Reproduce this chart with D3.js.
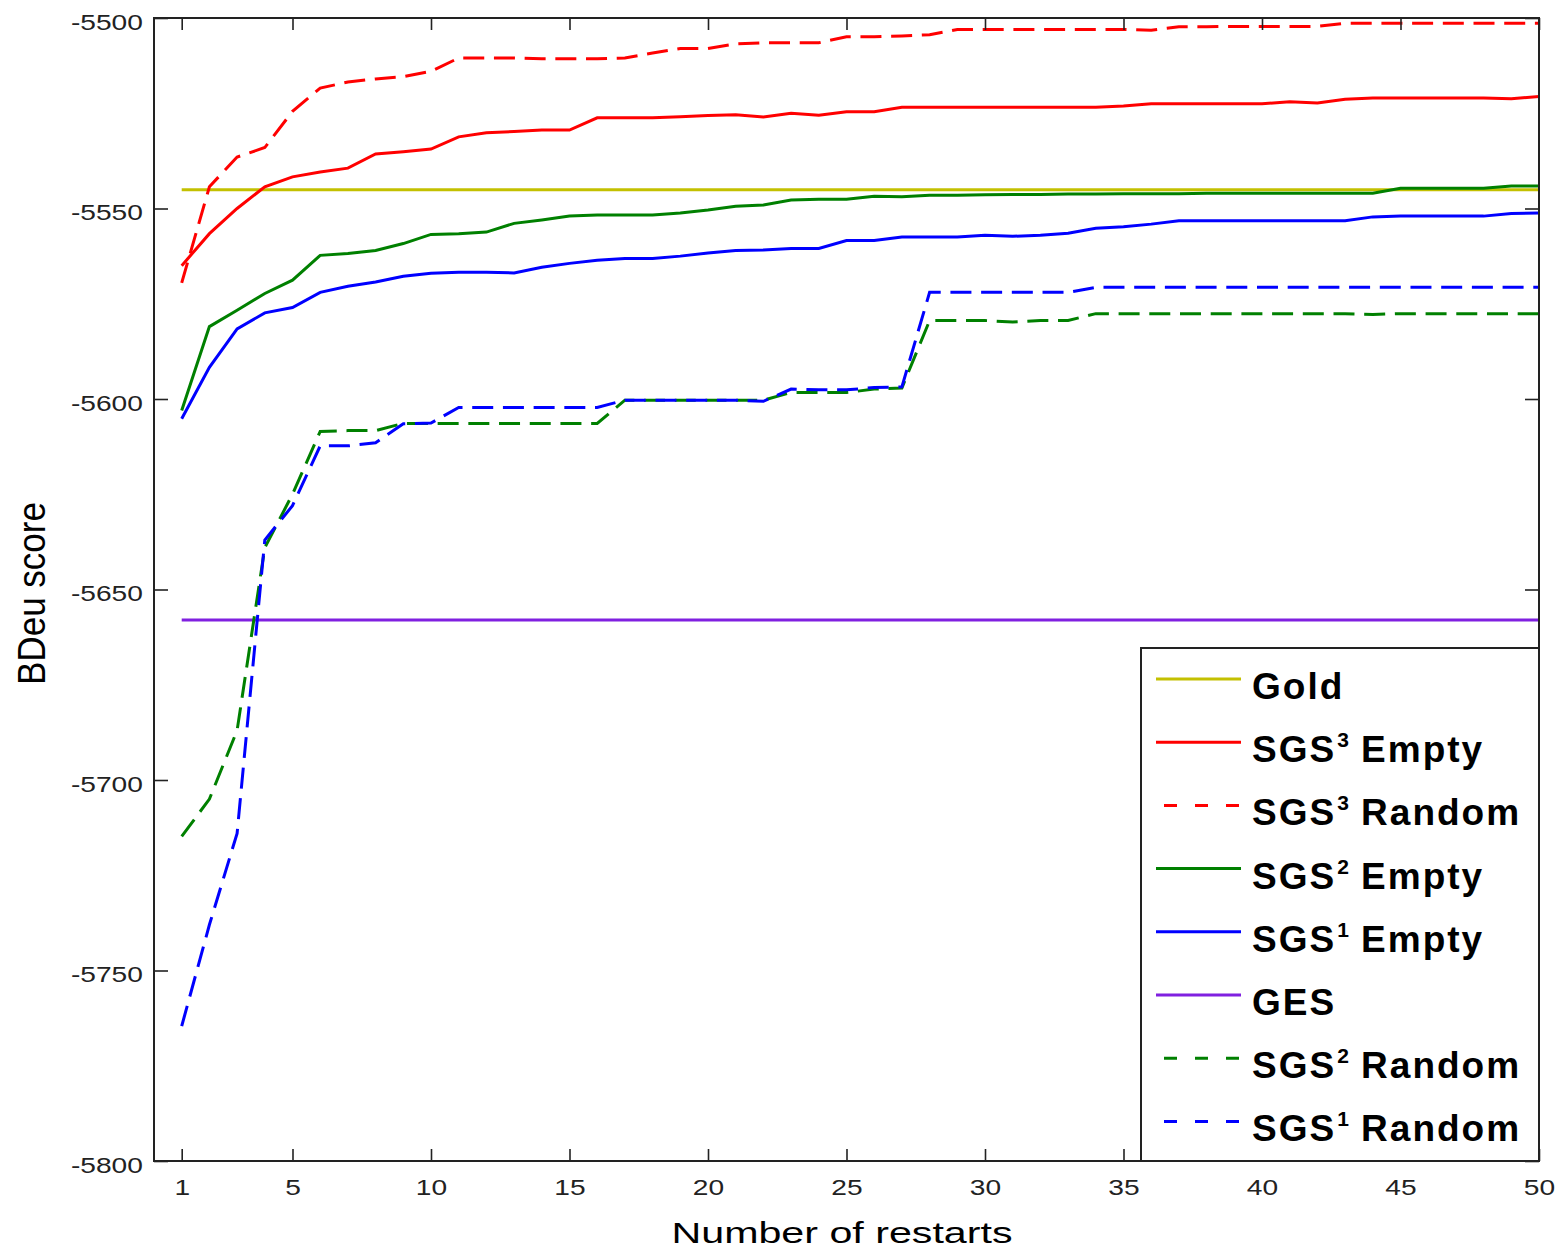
<!DOCTYPE html>
<html lang="en">
<head>
<meta charset="UTF-8">
<title>BDeu score vs number of restarts</title>
<script src="https://d3js.org/d3.v7.min.js"></script>
<style>
  body { margin: 0; background: #fff; }
  svg text { font-family: "Liberation Sans", Arial, sans-serif; }
</style>
</head>
<body>
<svg id="chart" width="1555" height="1251"></svg>
<script>
// ---- data ----
const restarts = d3.range(1, 51);

const sgs3Empty = [
  -5565, -5556.6, -5550, -5544.3, -5541.7, -5540.4, -5539.4, -5535.7, -5535.1, -5534.4,
  -5531.2, -5530.1, -5529.8, -5529.4, -5529.4, -5526.2, -5526.2, -5526.2, -5525.9, -5525.6,
  -5525.4, -5526.0, -5525.0, -5525.5, -5524.6, -5524.6, -5523.4, -5523.4, -5523.4, -5523.4,
  -5523.4, -5523.4, -5523.4, -5523.4, -5523.1, -5522.5, -5522.5, -5522.5, -5522.5, -5522.5,
  -5522.0, -5522.3, -5521.3, -5521.0, -5521.0, -5521.0, -5521.0, -5521.0, -5521.2, -5520.6
];
const sgs3Random = [
  -5569.5, -5544.3, -5536.5, -5534, -5524.5, -5518.4, -5516.8, -5516, -5515.4, -5514,
  -5510.5, -5510.5, -5510.5, -5510.7, -5510.7, -5510.7, -5510.5, -5509.2, -5508, -5508,
  -5506.8, -5506.5, -5506.5, -5506.5, -5504.9, -5504.9, -5504.7, -5504.4, -5503, -5503,
  -5503, -5503, -5503, -5503, -5503, -5503.2, -5502.3, -5502.3, -5502.2, -5502.2,
  -5502.2, -5502.2, -5501.4, -5501.4, -5501.4, -5501.4, -5501.4, -5501.4, -5501.4, -5501.4
];
const sgs2Empty = [
  -5603, -5581, -5576.7, -5572.3, -5568.8, -5562.3, -5561.8, -5561, -5559.2, -5556.8,
  -5556.6, -5556.2, -5553.9, -5553, -5552, -5551.7, -5551.7, -5551.7, -5551.2, -5550.4,
  -5549.4, -5549.1, -5547.8, -5547.6, -5547.6, -5546.8, -5546.9, -5546.5, -5546.5, -5546.4,
  -5546.3, -5546.3, -5546.2, -5546.2, -5546.1, -5546.1, -5546.1, -5546, -5546, -5546,
  -5546, -5546, -5546, -5546, -5544.7, -5544.7, -5544.7, -5544.7, -5544.1, -5544.1
];
const sgs1Empty = [
  -5605.2, -5591.7, -5581.6, -5577.4, -5576, -5572, -5570.4, -5569.3, -5567.8, -5567,
  -5566.7, -5566.7, -5566.9, -5565.4, -5564.4, -5563.6, -5563.1, -5563.1, -5562.5, -5561.7,
  -5561, -5560.9, -5560.5, -5560.5, -5558.4, -5558.4, -5557.5, -5557.5, -5557.5, -5557,
  -5557.3, -5557, -5556.5, -5555.2, -5554.8, -5554.1, -5553.2, -5553.2, -5553.2, -5553.2,
  -5553.2, -5553.2, -5553.2, -5552.2, -5552, -5552, -5552, -5552, -5551.3, -5551.2
];
const sgs2Random = [
  -5714.8, -5705, -5687, -5639, -5625, -5608.5, -5608.3, -5608.3, -5606.4, -5606.4,
  -5606.4, -5606.4, -5606.4, -5606.4, -5606.4, -5606.4, -5600.3, -5600.3, -5600.3, -5600.3,
  -5600.3, -5600.3, -5598.3, -5598.3, -5598.3, -5597.4, -5597.1, -5579.4, -5579.4, -5579.4,
  -5579.8, -5579.4, -5579.4, -5577.6, -5577.6, -5577.6, -5577.6, -5577.6, -5577.6, -5577.6,
  -5577.6, -5577.6, -5577.6, -5577.8, -5577.6, -5577.6, -5577.6, -5577.6, -5577.6, -5577.6
];
const sgs1Random = [
  -5764.6, -5738, -5714, -5637, -5628, -5612.3, -5612.3, -5611.5, -5606.5, -5606.3,
  -5602.2, -5602.2, -5602.2, -5602.2, -5602.2, -5602.2, -5600.3, -5600.3, -5600.3, -5600.3,
  -5600.3, -5600.6, -5597.4, -5597.6, -5597.6, -5597, -5596.8, -5572, -5572, -5572,
  -5572, -5572, -5572, -5570.7, -5570.7, -5570.7, -5570.7, -5570.7, -5570.7, -5570.7,
  -5570.7, -5570.7, -5570.7, -5570.7, -5570.7, -5570.7, -5570.7, -5570.7, -5570.7, -5570.7
];
const goldScore = -5545.1;
const gesScore = -5658;

const xTicks = [1, 5, 10, 15, 20, 25, 30, 35, 40, 45, 50];
const yTicks = [-5800, -5750, -5700, -5650, -5600, -5550, -5500];

// legend order = drawing order
const series = [
  { name: ["Gold", "", ""], color: "#c3c000", dash: null, values: restarts.map(() => goldScore) },
  { name: ["SGS", "3", " Empty"], color: "#ff0000", dash: null, values: sgs3Empty },
  { name: ["SGS", "3", " Random"], color: "#ff0000", dash: "21,9.7", values: sgs3Random },
  { name: ["SGS", "2", " Empty"], color: "#008000", dash: null, values: sgs2Empty },
  { name: ["SGS", "1", " Empty"], color: "#0000ff", dash: null, values: sgs1Empty },
  { name: ["GES", "", ""], color: "#8020e0", dash: null, values: restarts.map(() => gesScore) },
  { name: ["SGS", "2", " Random"], color: "#008000", dash: "21,9.7", values: sgs2Random },
  { name: ["SGS", "1", " Random"], color: "#0000ff", dash: "21,9.7", values: sgs1Random }
];

// ---- layout ----
const svg = d3.select('#chart');
const plotL = 154, plotR = 1539, plotT = 18, plotB = 1161;

const x = d3.scaleLinear().domain([0, 50]).range([plotL, plotR]);
const y = d3.scaleLinear().domain([-5800, -5500]).range([plotB, plotT]);

// lines
const line = d3.line()
  .x((d, i) => x(restarts[i]))
  .y(d => y(d));

svg.append('g')
  .selectAll('path')
  .data(series)
  .enter()
  .append('path')
  .attr('d', d => line(d.values))
  .attr('fill', 'none')
  .attr('stroke', d => d.color)
  .attr('stroke-width', 3)
  .attr('stroke-dasharray', d => d.dash);

// axes (ticks pointing inward, mirrored on top/right)
function styleAxis(g) {
  g.select('.domain').remove();
  g.selectAll('.tick line').attr('stroke', '#222').attr('stroke-width', 1.6);
  g.selectAll('.tick text')
    .attr('fill', '#222')
    .style('font-size', '22px')
    .attr('transform', 'scale(1.28,1)');
}

const plainNum = d => String(d);

svg.append('g')
  .attr('transform', `translate(0,${plotB})`)
  .call(d3.axisBottom(x).tickValues(xTicks).tickFormat(plainNum)
    .tickSizeInner(-12).tickSizeOuter(0).tickPadding(18))
  .call(styleAxis);

svg.append('g')
  .attr('transform', `translate(0,${plotT})`)
  .call(d3.axisTop(x).tickValues(xTicks).tickSizeInner(-12).tickSizeOuter(0).tickFormat(''))
  .call(styleAxis);

svg.append('g')
  .attr('transform', `translate(${plotL},0)`)
  .call(d3.axisLeft(y).tickValues(yTicks).tickFormat(plainNum)
    .tickSizeInner(-14).tickSizeOuter(0).tickPadding(8.7))
  .call(styleAxis)
  .selectAll('.tick text').attr('dy', '0.5em');

svg.append('g')
  .attr('transform', `translate(${plotR},0)`)
  .call(d3.axisRight(y).tickValues(yTicks).tickSizeInner(-14).tickSizeOuter(0).tickFormat(''))
  .call(styleAxis);

svg.append('rect')
  .attr('x', plotL).attr('y', plotT)
  .attr('width', plotR - plotL).attr('height', plotB - plotT)
  .attr('fill', 'none').attr('stroke', '#222').attr('stroke-width', 2);

// axis titles
svg.append('text')
  .attr('x', 842).attr('y', 1243)
  .attr('text-anchor', 'middle')
  .attr('textLength', 341).attr('lengthAdjust', 'spacingAndGlyphs')
  .style('font-size', '30px')
  .text('Number of restarts');

svg.append('text')
  .attr('transform', 'translate(45,593.5) rotate(-90)')
  .attr('text-anchor', 'middle')
  .attr('textLength', 183).attr('lengthAdjust', 'spacingAndGlyphs')
  .style('font-size', '39px')
  .text('BDeu score');

// legend
const lgX = 1141, lgY = 648;
svg.append('rect')
  .attr('x', lgX).attr('y', lgY)
  .attr('width', plotR - lgX).attr('height', plotB - lgY)
  .attr('fill', '#fff').attr('stroke', '#222').attr('stroke-width', 2);

const item = svg.append('g')
  .selectAll('g')
  .data(series)
  .enter()
  .append('g')
  .attr('transform', (d, i) => `translate(${lgX},${lgY + 31 + i * 63.2})`);

item.append('line')
  .attr('x1', d => d.dash ? 23 : 15).attr('x2', 100)
  .attr('y1', 0).attr('y2', 0)
  .attr('stroke', d => d.color)
  .attr('stroke-width', 3)
  .attr('stroke-dasharray', d => d.dash ? '13,18' : null);

const lbl = item.append('text')
  .attr('x', 111).attr('y', 20)
  .style('font-size', '37px')
  .style('font-weight', 'bold')
  .style('letter-spacing', '2px');
lbl.append('tspan').text(d => d.name[0]);
lbl.append('tspan')
  .attr('dy', d => d.name[1] ? -15 : 0)
  .attr('dx', 1)
  .attr('font-size', 21)
  .style('font-size', '21px')
  .style('letter-spacing', '0px')
  .text(d => d.name[1]);
lbl.append('tspan')
  .attr('dy', d => d.name[1] ? 15 : 0)
  .style('font-size', '37px')
  .text(d => d.name[2]);
</script>
</body>
</html>
